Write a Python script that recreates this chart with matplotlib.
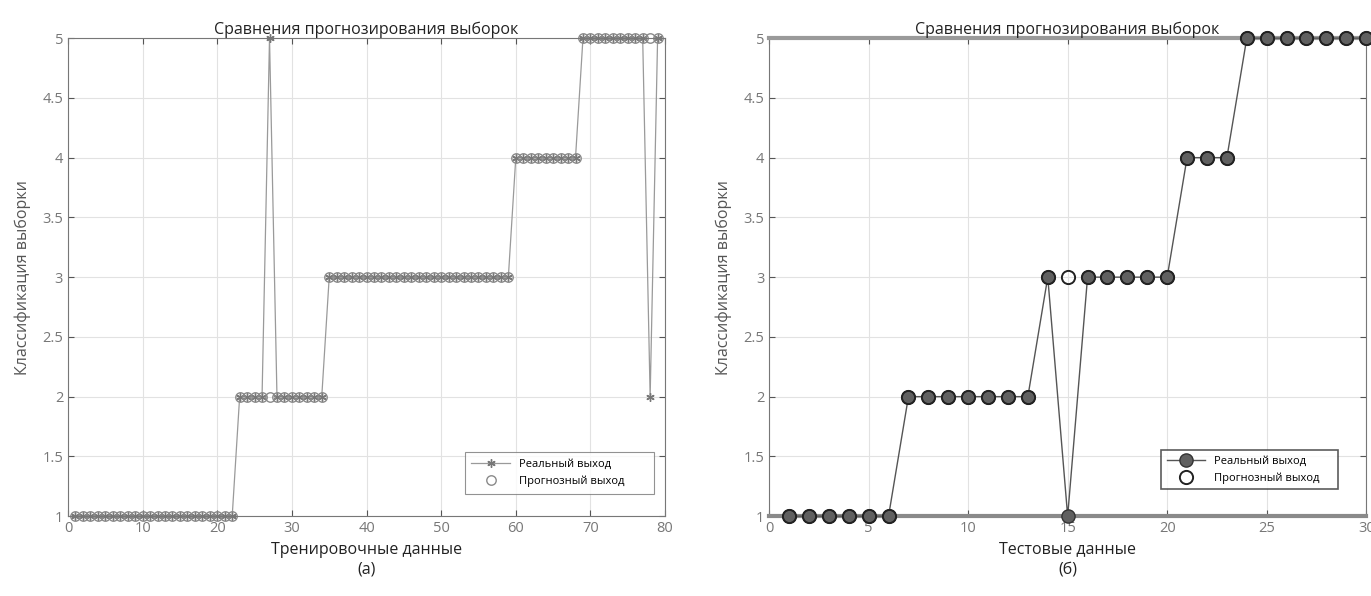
import matplotlib
matplotlib.use("Agg")
import matplotlib.pyplot as plt
import numpy as np

plt.rcParams['font.family'] = ['Open Sans', 'DejaVu Sans']

# ---- data: training set (a) ----
train_x = list(range(1, 80))
train_real = [1]*22 + [2]*4 + [5] + [2]*7 + [3]*25 + [4]*9 + [5]*9 + [2] + [5]
train_pred = [1]*22 + [2]*12 + [3]*25 + [4]*9 + [5]*11

# ---- data: test set (б) ----
test_x = list(range(1, 31))
test_real = [1]*6 + [2]*7 + [3] + [1] + [3]*5 + [4]*3 + [5]*7
test_pred = [1]*6 + [2]*7 + [3] + [3] + [3]*5 + [4]*3 + [5]*7

title = "Сравнения прогнозирования выборок"
ylabel = "Классификация выборки"
yticks = [1, 1.5, 2, 2.5, 3, 3.5, 4, 4.5, 5]
ytick_labels = ["1", "1.5", "2", "2.5", "3", "3.5", "4", "4.5", "5"]
legend_labels = ["Реальный выход", "Прогнозный выход"]

fig = plt.figure(figsize=(13.71, 5.96), dpi=100)
ax1 = fig.add_axes([0.0496, 0.134, 0.4355, 0.802])
ax2 = fig.add_axes([0.561, 0.134, 0.4355, 0.802])

def style(ax, xmax, xstep):
    ax.set_xlim(0, xmax)
    ax.set_ylim(1, 5)
    ax.set_xticks(np.arange(0, xmax + 1, xstep))
    ax.set_yticks(yticks)
    ax.set_yticklabels(ytick_labels)
    ax.grid(True, color='#e2e2e2', linewidth=0.8)
    ax.set_axisbelow(True)
    ax.tick_params(labelsize=10.5, labelcolor='#777777', color='#555555',
                   direction='in', length=4, top=True, right=True)
    for s in ax.spines.values():
        s.set_color('#777777')
        s.set_linewidth(0.8)
    ax.set_title(title, fontsize=11.5, pad=3, color='#222222')
    ax.set_ylabel(ylabel, fontsize=11.5, color='#555555', labelpad=8)

asterisk = (6, 2, 0)

# left plot
ax1.plot(train_x, train_real, '-', marker=asterisk, color='#9a9a9a', linewidth=0.9,
         markersize=6, markeredgecolor='#777777', label=legend_labels[0],
         clip_on=False)
ax1.plot(train_x, train_pred, 'o', markerfacecolor='none',
         markeredgecolor='#8a8a8a', markersize=6.8, markeredgewidth=1.0,
         label=legend_labels[1], clip_on=False)
style(ax1, 80, 10)
ax1.set_xlabel("Тренировочные данные\n(а)", fontsize=11.5, color='#222222',
               linespacing=1.3)
leg1 = ax1.legend(loc='lower left', bbox_to_anchor=(0.655, 0.035, 0.335, 0.13),
                  mode='expand', fontsize=8, frameon=True, fancybox=False,
                  edgecolor='#777777', handlelength=3.5, borderpad=0.6,
                  labelspacing=0.5)
leg1.get_frame().set_linewidth(0.8)

# right plot
ax2.plot(test_x, test_real, '-o', color='#555555', linewidth=1.0,
         markersize=9.5, markerfacecolor='#606060', markeredgecolor='#333333',
         label=legend_labels[0], clip_on=False, zorder=3)
ax2.plot(test_x, test_pred, 'o', markerfacecolor='none',
         markeredgecolor='#222222', markersize=9.5, markeredgewidth=1.4,
         label=legend_labels[1], clip_on=False, zorder=4)
style(ax2, 30, 5)
ax2.spines['top'].set_linewidth(3)
ax2.spines['top'].set_color('#9a9a9a')
ax2.spines['bottom'].set_linewidth(3)
ax2.spines['bottom'].set_color('#8a8a8a')
ax2.set_xlabel("Тестовые данные\n(б)", fontsize=11.5, color='#222222',
               linespacing=1.3)
leg2 = ax2.legend(loc='lower left', bbox_to_anchor=(0.647, 0.045, 0.315, 0.115),
                  mode='expand', fontsize=8, frameon=True, fancybox=False,
                  edgecolor='#333333', handlelength=3.5, borderpad=0.5,
                  labelspacing=0.5)
leg2.get_frame().set_linewidth(1.2)

fig.savefig("out.png", dpi=100)
